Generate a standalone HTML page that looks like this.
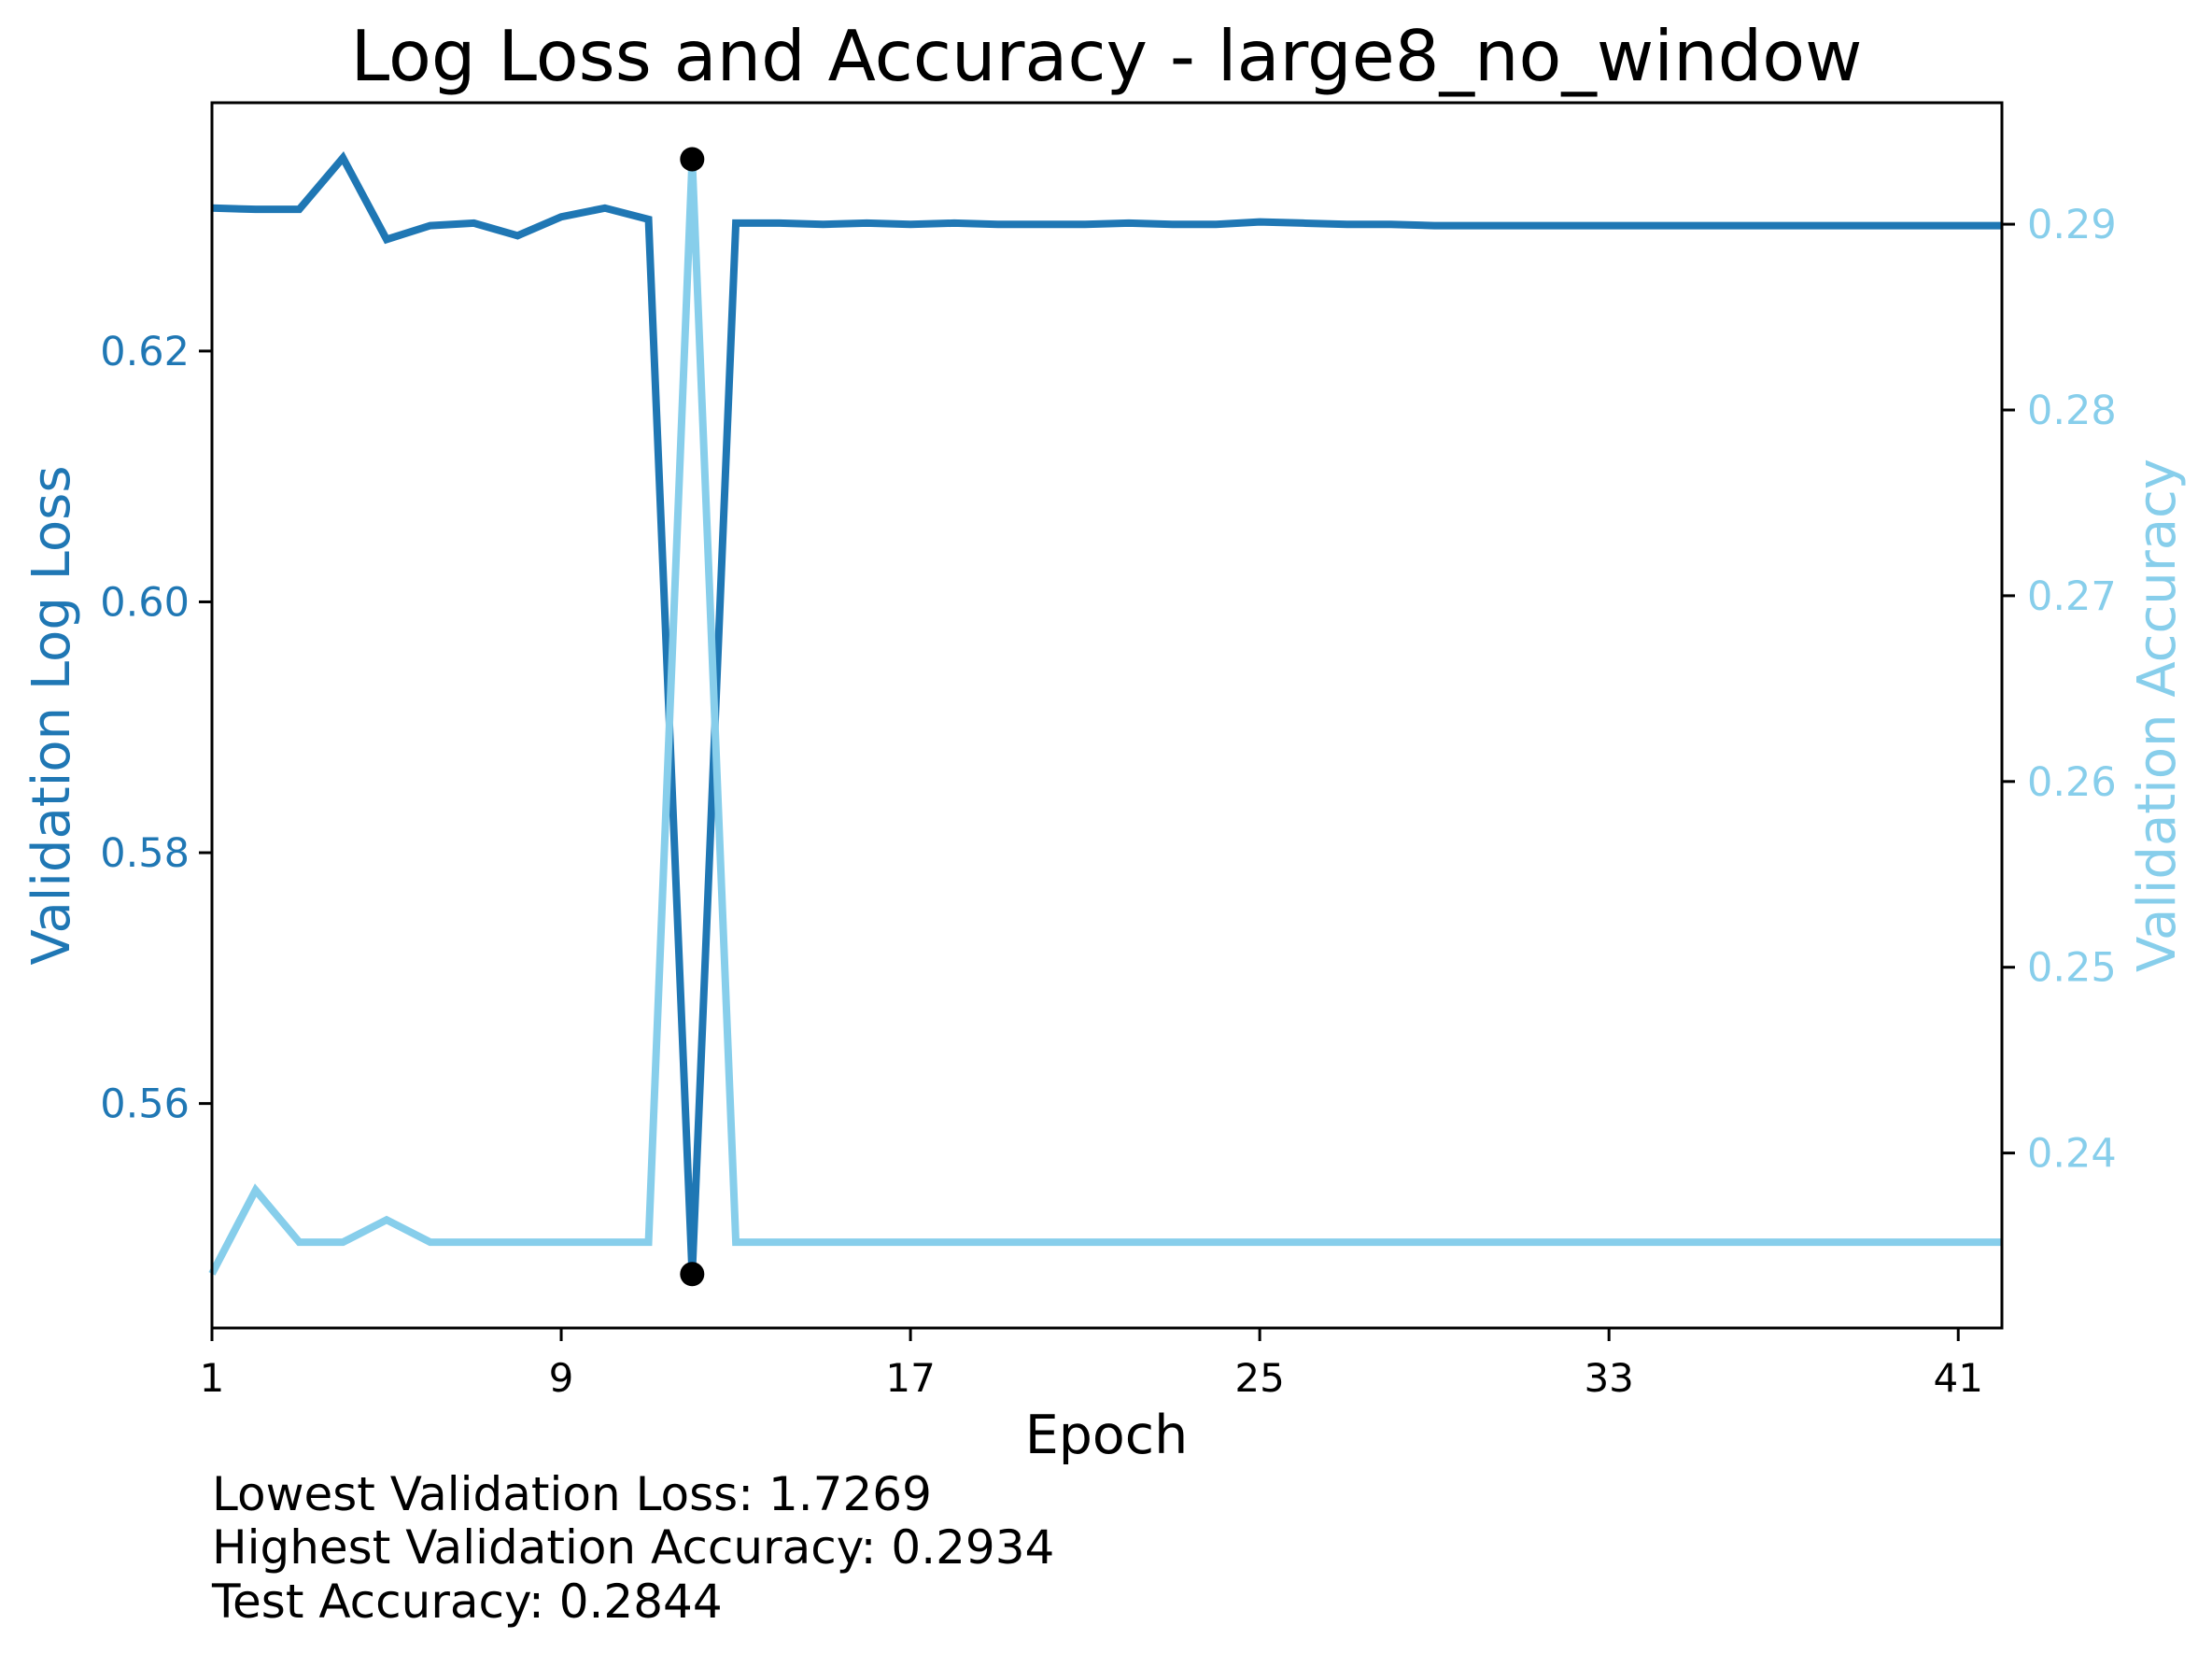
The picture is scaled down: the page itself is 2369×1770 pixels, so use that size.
<!DOCTYPE html>
<html><head><meta charset="utf-8"><style>
body{margin:0;background:#fff}
svg{display:block;font-family:"DejaVu Sans","Liberation Sans",sans-serif}
</style></head><body>
<svg id="chart" width="2369" height="1770" viewBox="0 0 2369 1770" xmlns="http://www.w3.org/2000/svg">
<rect width="2369" height="1770" fill="#fff"/>
<text x="1185" y="86" font-size="75" text-anchor="middle">Log Loss and Accuracy - large8_no_window</text>
<g id="plot"></g>
<text x="1185" y="1556" font-size="57" text-anchor="middle">Epoch</text>
<text transform="translate(74,766) rotate(-90)" font-size="56" text-anchor="middle" fill="#1f77b4">Validation Log Loss</text>
<text transform="translate(2329,766) rotate(-90)" font-size="56" text-anchor="middle" fill="#87ceeb">Validation Accuracy</text>
<text x="227" y="1617" font-size="50">Lowest Validation Loss: 1.7269</text>
<text x="227" y="1674" font-size="50">Highest Validation Accuracy: 0.2934</text>
<text x="227" y="1732" font-size="50">Test Accuracy: 0.2844</text>
</svg>
<script>
const epochs = Array.from({length:42},(_,i)=>i+1);
const lossValues = [0.6314,0.6313,0.6313,0.6354,0.6289,0.6300,0.6302,0.6292,0.6307,0.6314,0.6305,0.5464,0.6302,0.6302,0.6301,0.6302,0.6301,0.6302,0.6301,0.6301,0.6301,0.6302,0.6301,0.6301,0.6303,0.6302,0.6301,0.6301,0.6300,0.6300,0.6300,0.6300,0.6300,0.6300,0.6300,0.6300,0.6300,0.6300,0.6300,0.6300,0.6300,0.6300];
const accValues = [0.2335,0.2380,0.2352,0.2352,0.2364,0.2352,0.2352,0.2352,0.2352,0.2352,0.2352,0.2935,0.2352,0.2352,0.2352,0.2352,0.2352,0.2352,0.2352,0.2352,0.2352,0.2352,0.2352,0.2352,0.2352,0.2352,0.2352,0.2352,0.2352,0.2352,0.2352,0.2352,0.2352,0.2352,0.2352,0.2352,0.2352,0.2352,0.2352,0.2352,0.2352,0.2352];
const xTicks = [1,9,17,25,33,41];
const lossTicks = [0.56,0.58,0.60,0.62];
const accTicks = [0.24,0.25,0.26,0.27,0.28,0.29];

const L=227,R=2144,T=110,B=1422;
const xMin=1,xMax=42,lMin=0.5421,lMax=0.6398,aMin=0.23058,aMax=0.29654;
const xs=v=>L+(v-xMin)/(xMax-xMin)*(R-L);
const yl=v=>B-(v-lMin)/(lMax-lMin)*(B-T);
const ya=v=>B-(v-aMin)/(aMax-aMin)*(B-T);
const NS="http://www.w3.org/2000/svg";
const g=document.getElementById('plot');
function mk(tag,attrs,parent){const e=document.createElementNS(NS,tag);for(const k in attrs)e.setAttribute(k,attrs[k]);(parent||g).appendChild(e);return e;}

let el=mk('polyline',{points:epochs.map((e,i)=>xs(e)+','+yl(lossValues[i])).join(' '),fill:'none',stroke:'#1f77b4','stroke-width':8});


el=mk('polyline',{points:epochs.map((e,i)=>xs(e)+','+ya(accValues[i])).join(' '),fill:'none',stroke:'#87ceeb','stroke-width':8});


let iMin=lossValues.indexOf(Math.min(...lossValues));
el=mk('circle',{cx:xs(epochs[iMin]),cy:yl(lossValues[iMin]),r:13,fill:'#000'});


let iMax=accValues.indexOf(Math.max(...accValues));
el=mk('circle',{cx:xs(epochs[iMax]),cy:ya(accValues[iMax]),r:13,fill:'#000'});


el=mk('rect',{x:L,y:T,width:R-L,height:B-T,fill:'none',stroke:'#000','stroke-width':3});


xTicks.forEach(t=>{
  const x=xs(t);
  el=mk('line',{x1:x,x2:x,y1:B,y2:B+14,stroke:'#000','stroke-width':3});
  
  
  el=mk('text',{x:x,y:B+68,'font-size':42,'text-anchor':'middle'});
  el.textContent=t;
  
  
});
lossTicks.forEach(t=>{
  const y=yl(t);
  el=mk('line',{x1:L-14,x2:L,y1:y,y2:y,stroke:'#000','stroke-width':3});
  
  
  el=mk('text',{x:L-24,y:y+15,'font-size':43,'text-anchor':'end',fill:'#1f77b4'});
  el.textContent=t.toFixed(2);
  
  
});
accTicks.forEach(t=>{
  const y=ya(t);
  el=mk('line',{x1:R,x2:R+14,y1:y,y2:y,stroke:'#000','stroke-width':3});
  
  
  el=mk('text',{x:R+27,y:y+15,'font-size':43,'text-anchor':'start',fill:'#87ceeb'});
  el.textContent=t.toFixed(2);
  
  
});
</script>
</body></html>
